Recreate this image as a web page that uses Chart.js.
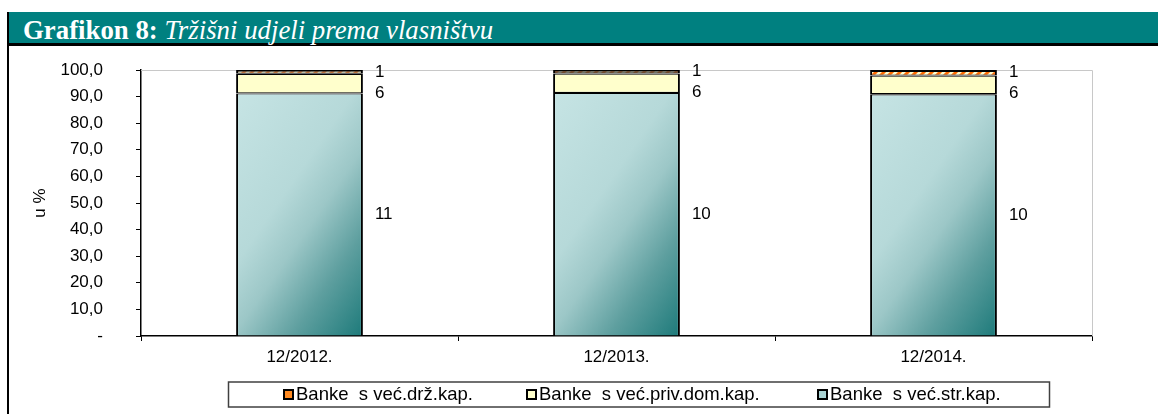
<!DOCTYPE html>
<html>
<head>
<meta charset="utf-8">
<script src="https://cdn.jsdelivr.net/npm/chart.js@4"></script>
<style>
  body { margin: 0; background: #fff; width: 1158px; height: 414px; overflow: hidden; position: relative; }
  #frame { position: absolute; left: 7px; top: 12px; width: 1151px; height: 402px; border-left: 2px solid #000; }
  #title { position: absolute; left: 9px; top: 12px; width: 1149px; height: 34px; background: #008080;
           border-bottom: 3px solid #000; color: #fff; font-family: "Liberation Serif", serif; font-size: 26.8px;
           line-height: 36px; padding-left: 14px; box-sizing: border-box; white-space: nowrap; }
  #wrap { position: absolute; left: 10px; top: 50px; width: 1148px; height: 364px; }
</style>
</head>
<body>
<div id="frame"></div>
<div id="title"><b>Grafikon 8:</b> <i>Tržišni udjeli prema vlasništvu</i></div>
<div id="wrap"><canvas id="myChart"></canvas></div>
<script>
var categories = ["12/2012.", "12/2013.", "12/2014."];
var foreignShare = [91.2, 91.4, 90.9];
var privDomShare = [7.4, 7.3, 7.0];
var stateShare = [1.4, 1.3, 2.1];
var foreignCount = [11, 10, 10];
var privDomCount = [6, 6, 6];
var stateCount = [1, 1, 1];
var seriesLabels = ["Banke  s već.str.kap.", "Banke  s već.priv.dom.kap.", "Banke  s već.drž.kap."];

var FONT = "Liberation Sans, Arial, sans-serif";

// orange hatch for state-owned banks
var pc = document.createElement("canvas");
pc.width = 8; pc.height = 8;
var p = pc.getContext("2d");
p.fillStyle = "#ffffd0";
p.fillRect(0, 0, 8, 8);
p.strokeStyle = "#ff6a00";
p.lineWidth = 3;
p.beginPath();
p.moveTo(-2, 10); p.lineTo(10, -2);
p.moveTo(-6, 6); p.lineTo(6, -6);
p.moveTo(2, 14); p.lineTo(14, 2);
p.stroke();
var hatch = p.createPattern(pc, "repeat");

// teal fill, dark in the lower right corner
function foreignFill(c) {
    var chart = c.chart;
    var xs = chart.scales.x, ys = chart.scales.y;
    if (!xs || !ys || !chart.chartArea) return "#9fcfcf";
    var cx = xs.getPixelForValue(c.dataIndex);
    var half = (xs.width / categories.length) * 0.4 / 2;
    var top = ys.getPixelForValue(foreignShare[c.dataIndex]);
    var bottom = ys.getPixelForValue(0);
    var ux = 0.823, uy = 0.569;
    var len = 2 * half * ux + (bottom - top) * uy;
    var x1 = cx + half, y1 = bottom;
    var g = chart.ctx.createLinearGradient(x1 - len * ux, y1 - len * uy, x1, y1);
    g.addColorStop(0, "#c6e4e4");
    g.addColorStop(0.4, "#b6d9d9");
    g.addColorStop(0.56, "#9cc7c7");
    g.addColorStop(0.76, "#5e9f9f");
    g.addColorStop(1, "#1d7a7a");
    return g;
}

var counts = [foreignCount, privDomCount, stateCount];

var barLabels = {
    id: "barLabels",
    afterDatasetsDraw: function (chart) {
        var ctx = chart.ctx;
        ctx.save();
        ctx.font = "17px " + FONT;
        ctx.fillStyle = "#000";
        ctx.textAlign = "left";
        ctx.textBaseline = "middle";
        for (var i = 0; i < categories.length; i++) {
            var prev = -1000;
            for (var d = chart.data.datasets.length - 1; d >= 0; d--) {
                var bar = chart.getDatasetMeta(d).data[i];
                var y = (bar.y + bar.base) / 2;
                if (y < prev + 21) y = prev + 21;
                prev = y;
                ctx.fillText(String(counts[d][i]), bar.x + bar.width / 2 + 12, y);
            }
        }
        ctx.restore();
    }
};

var frameAndLegend = {
    id: "frameAndLegend",
    beforeDatasetsDraw: function (chart) {
        var a = chart.chartArea, ctx = chart.ctx;
        ctx.save();
        ctx.strokeStyle = "#c8c8c8";
        ctx.lineWidth = 1;
        ctx.beginPath();
        ctx.moveTo(a.left, a.top + 0.5);
        ctx.lineTo(a.right + 0.5, a.top + 0.5);
        ctx.lineTo(a.right + 0.5, a.bottom);
        ctx.stroke();
        ctx.restore();
    },
    afterDraw: function (chart) {
        var ctx = chart.ctx;
        ctx.save();
        // legend box
        ctx.strokeStyle = "#404040";
        ctx.lineWidth = 1.5;
        ctx.strokeRect(218.5, 332, 821, 25);
        var xs = [274, 517, 808];
        var order = [2, 1, 0];
        ctx.font = "18.5px " + FONT;
        ctx.textBaseline = "middle";
        ctx.textAlign = "left";
        for (var k = 0; k < order.length; k++) {
            var ds = chart.data.datasets[order[k]];
            ctx.fillStyle = ds.legendColor;
            ctx.fillRect(xs[k], 340, 9, 9);
            ctx.strokeStyle = "#000";
            ctx.lineWidth = 2;
            ctx.strokeRect(xs[k], 340, 9, 9);
            ctx.fillStyle = "#000";
            ctx.fillText(ds.label, xs[k] + 12, 345);
        }
        ctx.restore();
    }
};

var myChart = document.getElementById("myChart").getContext("2d");
var massChart = new Chart(myChart, {
    type: "bar",
    data: {
        labels: categories,
        datasets: [
            { label: seriesLabels[0], data: foreignShare, backgroundColor: foreignFill, legendColor: "#a9d3d3",
              borderWidth: { left: 2, right: 2, top: 1.2, bottom: 0 } },
            { label: seriesLabels[1], data: privDomShare, backgroundColor: "#ffffcc", legendColor: "#ffffcc",
              borderWidth: { left: 2, right: 2, top: 1.2, bottom: 1.2 } },
            { label: seriesLabels[2], data: stateShare, backgroundColor: hatch, legendColor: "#ff8a20",
              borderWidth: { left: 2, right: 2, top: 2, bottom: 1.2 } }
        ]
    },
    options: {
        responsive: true,
        maintainAspectRatio: false,
        animation: false,
        layout: { padding: { top: 20, right: 66, left: 0, bottom: 0 } },
        datasets: {
            bar: {
                borderColor: "#000",
                borderSkipped: false,
                categoryPercentage: 1,
                barPercentage: 0.4
            }
        },
        plugins: {
            legend: { display: false },
            tooltip: { enabled: false }
        },
        scales: {
            x: {
                stacked: true,
                afterFit: function (s) { s.height = 78; },
                grid: { offset: true, drawOnChartArea: false, drawTicks: true, tickLength: 5, color: "#000" },
                border: { color: "#000", width: 1.5 },
                ticks: { color: "#000", font: { family: FONT, size: 17 }, padding: 6 }
            },
            y: {
                stacked: true,
                min: 0,
                max: 100,
                afterFit: function (s) { s.width = 131; s.paddingTop = 10; s.paddingBottom = 10; },
                grid: { drawOnChartArea: false, drawTicks: true, tickLength: 5, color: "#000" },
                border: { color: "#000", width: 1.5 },
                ticks: {
                    stepSize: 10,
                    color: "#000",
                    padding: 33,
                    font: { family: FONT, size: 17 },
                    callback: function (v) { return v === 0 ? "-" : v.toFixed(1).replace(".", ","); }
                },
                title: { display: true, text: "u %", color: "#000", font: { family: FONT, size: 17 }, padding: { top: 20, bottom: 0 } }
            }
        }
    },
    plugins: [frameAndLegend, barLabels]
});
</script>
</body>
</html>
